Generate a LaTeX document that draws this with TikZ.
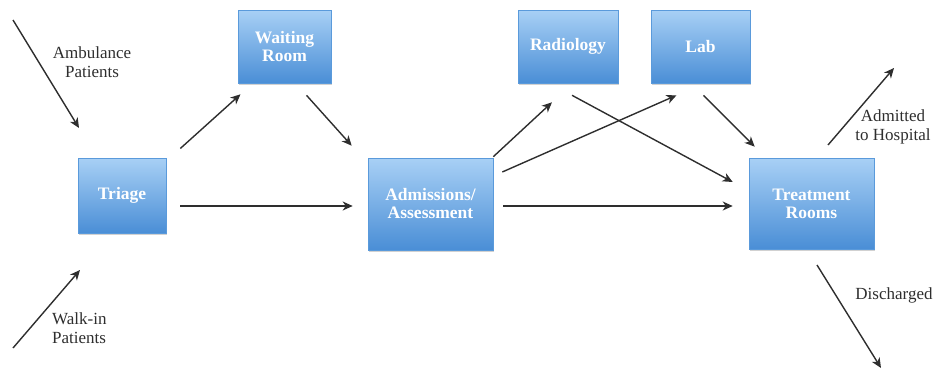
\documentclass[tikz,border=0pt]{standalone}
\usepackage{fontspec}
\setmainfont{Liberation Serif}
\usetikzlibrary{arrows.meta,shadows}
\definecolor{boxtop}{HTML}{A8D0F5}
\definecolor{boxbot}{HTML}{4A8ED6}
\definecolor{boxedge}{HTML}{5A9ADB}
\definecolor{flowline}{HTML}{2E2E2E}
\begin{document}
\begin{tikzpicture}[x=1pt,y=-1pt,
  stage/.style={draw=boxedge, line width=0.6pt, top color=boxtop, bottom color=boxbot,
    drop shadow={shadow xshift=1.2pt, shadow yshift=-1.8pt, fill=black!40, opacity=0.45},
    text=white, font=\bfseries\fontsize{17.5}{18}\selectfont, align=center,
    inner sep=0pt},
  flow/.style={draw=flowline, line width=1.4pt, -{Stealth[length=10pt,width=9pt,inset=3pt]}},
  note/.style={font=\fontsize{17}{19.5}\selectfont, text=black!82, align=center, inner sep=0pt}]
\useasboundingbox (0,0) rectangle (939,372);
% process stages
\node[stage, minimum width=88pt, minimum height=75pt] (triage) at (122,195.5) {Triage};
\node[stage, minimum width=93pt, minimum height=73pt] (wait) at (284.5,46.5) {Waiting\\Room};
\node[stage, minimum width=125pt, minimum height=92pt] (adm) at (430.5,204) {Admissions/\\Assessment};
\node[stage, minimum width=100pt, minimum height=73pt] (rad) at (568,46.5) {Radiology};
\node[stage, minimum width=99pt, minimum height=73pt] (lab) at (700.5,46.5) {Lab};
\node[stage, minimum width=125pt, minimum height=91pt] (treat) at (811.5,203.5) {Treatment\\Rooms};
% free ends of the entry and exit flows
\coordinate (ambS) at (13,20);
\coordinate (ambE) at (79,128);
\coordinate (walkS) at (13,348);
\coordinate (walkE) at (80,270);
\coordinate (admS) at (828,145);
\coordinate (admE) at (894,68);
\coordinate (disS) at (817,265);
\coordinate (disE) at (881,368);
% flows between stages
\draw[flow] (ambS) -- (ambE);
\draw[flow] (walkS) -- (walkE);
\draw[flow] ([shift={(14,-47)}]triage.east) -- ([shift={(-44,11)}]wait.south);
\draw[flow] ([shift={(22,12)}]wait.south) -- ([shift={(-16,-12)}]adm.north west);
\draw[flow] ([shift={(14,10.5)}]triage.east) -- ([shift={(-15,2)}]adm.west);
\draw[flow] ([shift={(0,-1)}]adm.north east) -- ([shift={(-16,19)}]rad.south);
\draw[flow] ([shift={(9,-32)}]adm.east) -- ([shift={(-24,12)}]lab.south);
\draw[flow] ([shift={(4,12)}]rad.south) -- ([shift={(-16,-21.5)}]treat.west);
\draw[flow] ([shift={(3,12)}]lab.south) -- ([shift={(6,-11)}]treat.north west);
\draw[flow] ([shift={(10,2)}]adm.east) -- ([shift={(-16,2.5)}]treat.west);
\draw[flow] (admS) -- (admE);
\draw[flow] (disS) -- (disE);
% labels
\node[note] (lamb) at (92,62) {Ambulance\\Patients};
\node[note, align=left, anchor=west] (lwalk) at (52,328) {Walk-in\\Patients};
\node[note] (ladm) at (893,127) {Admitted\\to Hospital};
\node[note] (ldis) at (894,295) {Discharged};
\end{tikzpicture}
\end{document}
